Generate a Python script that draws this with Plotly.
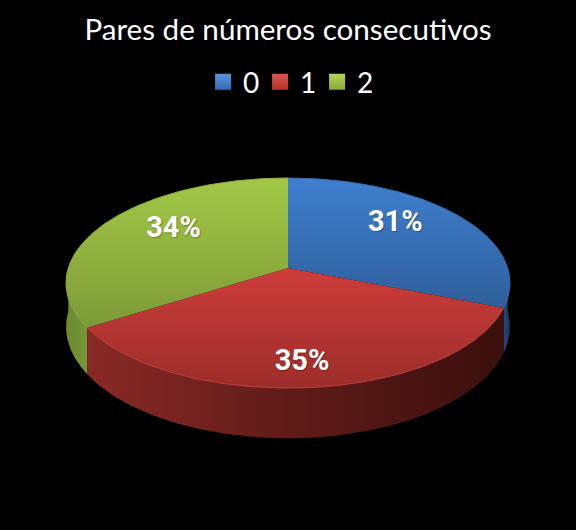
import numpy as np
import plotly.graph_objects as go

categories = ['0', '1', '2']
values = [31, 35, 34]
top_colors = [['#3f7fcf', '#2f5f9b'], ['#cd3d3a', '#9c2d2a'], ['#a3c847', '#7d9a37']]
wall_colors = [['#264a7a', '#1c3658'], ['#8a2926', '#5f1b18', '#3a0f0d'], ['#6a8a2f', '#76963a']]
rim_colors = ['#3a6cab', '#bf4340', '#8fae3f']
swatch_colors = ['#5a94dc', '#dc5450', '#b4d455']
swatch_shades = ['#2f6cb8', '#b8302d', '#8aaa3a']

# pixel geometry of the tilted pie
CX, CY = 288, 268
A, B = 219.7, 102.9
K = 1 / 7
DEPTH = 43
LABEL_RX, LABEL_RY = 0.62, 0.82
FONT = 'Lato'


def project(theta, r=1.0, drop=0.0):
    w = 1 + K * r * np.cos(theta)
    return CX + A * r * np.sin(theta) / w, CY + (drop - B * r * np.cos(theta)) / w


def even_scale(colors):
    return [[i / (len(colors) - 1), c] for i, c in enumerate(colors)]


fractions = np.array(values) / sum(values)
edges = np.concatenate([[0], np.cumsum(fractions)]) * 2 * np.pi

fig = go.Figure()

# side walls first, only the part facing the viewer; the red one goes last
wall_order = [0, 2, 1]
for i in wall_order:
    start = max(edges[i], np.pi / 2)
    stop = min(edges[i + 1], 3 * np.pi / 2)
    t = np.linspace(start, stop, 120)
    x_top, y_top = project(t)
    x_low, y_low = project(t, drop=DEPTH)
    x = np.concatenate([x_top, x_low[::-1]])
    y = np.concatenate([y_top, y_low[::-1]])
    fig.add_trace(go.Scatter(
        x=x, y=y, mode='lines', line=dict(width=0), fill='toself',
        fillgradient=dict(type='horizontal', colorscale=even_scale(wall_colors[i]),
                          start=x.min(), stop=x.max()),
        hoverinfo='skip', showlegend=False))

# top faces, with the thin lit edge along the rim
for i in range(len(values)):
    t = np.linspace(edges[i], edges[i + 1], 150)
    x_rim, y_rim = project(t)
    x = np.concatenate([[CX], x_rim, [CX]])
    y = np.concatenate([[CY], y_rim, [CY]])
    fig.add_trace(go.Scatter(
        x=x, y=y, mode='lines', line=dict(width=0), fill='toself',
        fillgradient=dict(type='vertical', colorscale=even_scale(top_colors[i]),
                          start=y.min(), stop=y.max()),
        hoverinfo='skip', showlegend=False))
    fig.add_trace(go.Scatter(
        x=x_rim, y=y_rim, mode='lines', line=dict(width=1, color=rim_colors[i]),
        hoverinfo='skip', showlegend=False))

# percent labels
for i in range(len(values)):
    mid = (edges[i] + edges[i + 1]) / 2
    w_x, _ = project(mid, LABEL_RX)
    _, w_y = project(mid, LABEL_RY)
    fig.add_trace(go.Scatter(
        x=[w_x], y=[w_y], mode='text', text=[f'{values[i]}%'],
        textfont=dict(family='Roboto', size=29, color='white', weight='bold',
                      shadow='1px 1px 1px rgba(0,0,0,0.3)'),
        hoverinfo='skip', showlegend=False))

# legend entries
for i, name in enumerate(categories):
    fig.add_trace(go.Scatter(
        x=[None], y=[None], mode='markers', name=name,
        marker=dict(symbol='square', size=18, color=swatch_colors[i],
                    gradient=dict(type='vertical', color=swatch_shades[i]),
                    line=dict(width=0))))

fig.update_layout(
    width=576, height=530,
    margin=dict(l=0, r=0, t=0, b=0),
    paper_bgcolor='black', plot_bgcolor='black',
    title=dict(text='Pares de números consecutivos', x=0.5, xanchor='center',
               y=0.945, yanchor='middle',
               font=dict(family=FONT, size=29.6, color='white')),
    legend=dict(orientation='h', x=0.501, xanchor='center', y=0.845, yanchor='middle',
                entrywidth=12, entrywidthmode='pixels',
                font=dict(family=FONT, size=28, color='white'),
                bgcolor='rgba(0,0,0,0)'),
    xaxis=dict(range=[0, 576], visible=False, fixedrange=True),
    yaxis=dict(range=[530, 0], visible=False, fixedrange=True),
)

# page default margin would leave a white strip around the chart
fig.write_html('out.html', config={'displayModeBar': False},
               post_script="document.body.style.margin='0';document.body.style.background='black';")
